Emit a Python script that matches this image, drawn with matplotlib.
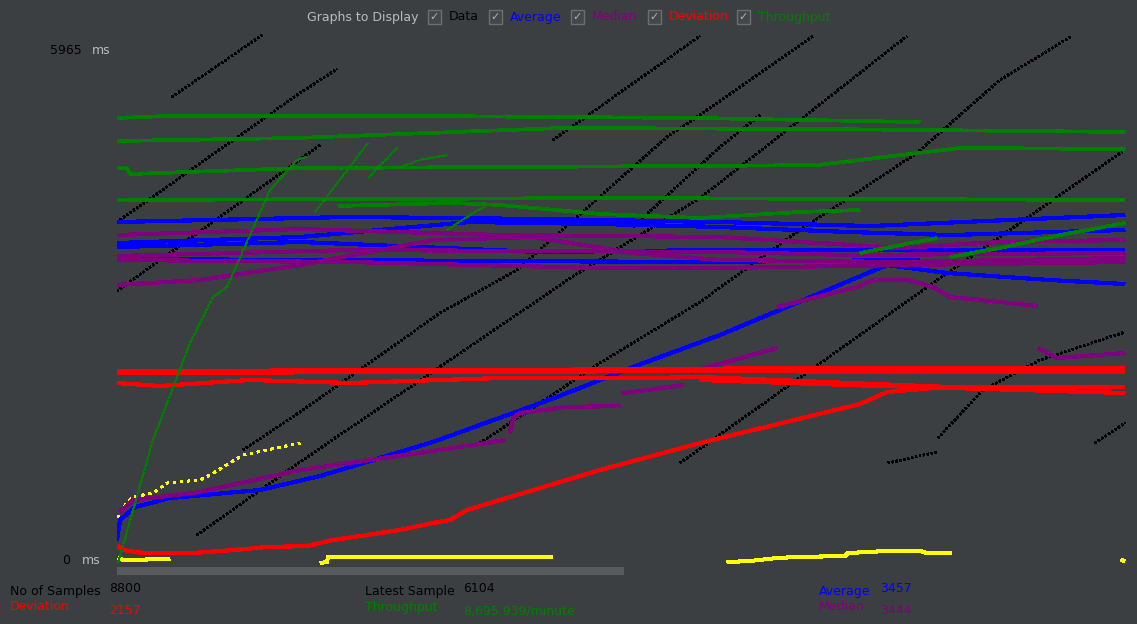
import matplotlib
matplotlib.use("Agg")
import matplotlib.pyplot as plt
from matplotlib.patches import Rectangle
import numpy as np

W, H = 1137, 624
BG = '#3c3f41'
C_DATA, C_AVG, C_MED, C_DEV, C_THR = '#000000', '#0000ff', '#800080', '#ff0000', '#008000'
C_YEL = '#ffff00'

# ---------------- data (x = sample position on graph, y = ms) ----------------
# Throughput (wrapped segments)
thr1_x = [0, 50, 300, 580, 803]
thr1_y = [5171, 5195, 5195, 5171, 5124]
thr2_x = [0, 180, 443, 700, 1008]
thr2_y = [4903, 4938, 5054, 5043, 5008]
thr3_x = [0, 10, 13, 183, 583, 700, 843, 1008]
thr3_y = [4587, 4587, 4517, 4587, 4611, 4622, 4821, 4809]
thr4_x = [0, 500, 1008]
thr4_y = [4214, 4237, 4214]
thr5_x = [221, 333, 383, 483, 583, 683, 743]
thr5_y = [4144, 4179, 4156, 4051, 4004, 4074, 4097]
thr6_x = [743, 820]
thr6_y = [3595, 3770]
thr7_x = [833, 883, 943, 1008]
thr7_y = [3549, 3654, 3805, 3945]
thr_start_x = [1, 36, 73, 96, 110, 153, 180, 190]
thr_start_y = [-23, 1412, 2545, 3082, 3198, 4331, 4681, 4716]
thr_saw_a_x = [198, 251]
thr_saw_a_y = [4074, 4879]
thr_saw_b_x = [251, 280]
thr_saw_b_y = [4471, 4821]
thr_saw_c_x = [283, 303, 330]
thr_saw_c_y = [4599, 4681, 4739]
thr_saw_d_x = [330, 361, 368]
thr_saw_d_y = [3864, 4097, 4132]

# Average
avg1_x = [0, 233, 423, 603, 753, 1008]
avg1_y = [3957, 4016, 3992, 3957, 3910, 4039]
avg2_x = [0, 183, 353, 483, 603, 733, 833, 1008]
avg2_y = [3712, 3782, 3957, 3934, 3899, 3840, 3805, 3864]
avg3_x = [0, 183, 423, 603, 1008]
avg3_y = [3665, 3724, 3607, 3630, 3630]
avg4_x = [0, 583, 803]
avg4_y = [3525, 3490, 3514]
avg5_x = [0, 3, 18, 53, 143, 203, 316, 440, 516, 603, 770, 830, 933, 1008]
avg5_y = [245, 479, 630, 735, 829, 992, 1389, 1914, 2265, 2638, 3455, 3362, 3280, 3233]

# Median
med1_x = [0, 183, 383, 603, 783, 883, 1008]
med1_y = [3805, 3875, 3805, 3782, 3654, 3724, 3747]
med2_x = [0, 233, 603, 733, 1008]
med2_y = [3560, 3630, 3607, 3572, 3595]
med3_x = [0, 233, 483, 603, 783, 1008]
med3_y = [3514, 3490, 3420, 3420, 3455, 3490]
med4_x = [0, 83, 183, 316, 416, 516, 603, 783, 1008]
med4_y = [3222, 3280, 3455, 3747, 3782, 3595, 3514, 3490, 3537]
med5_x = [3, 16, 83, 183, 323, 388]
med5_y = [572, 712, 805, 1062, 1296, 1412]
med6_x = [393, 396, 403, 450, 503]
med6_y = [1494, 1669, 1728, 1798, 1809]
med7_x = [505, 516, 566]
med7_y = [1961, 1973, 2054]
med8_x = [573, 660]
med8_y = [2206, 2486]
med9_x = [660, 740, 756, 790, 816, 833, 883, 920]
med9_y = [2965, 3198, 3280, 3280, 3198, 3082, 3023, 2977]
med10_x = [921, 940, 1008]
med10_y = [2486, 2370, 2428]

# Deviation
dev1_x = [0, 400, 700, 1008]
dev1_y = [2218, 2230, 2253, 2253]
dev2_x = [0, 300, 600, 800, 1008]
dev2_y = [2195, 2206, 2218, 2206, 2206]
dev3_x = [0, 43, 133, 233, 383, 533, 583, 833, 1008]
dev3_y = [2078, 2043, 2113, 2078, 2136, 2136, 2148, 2031, 2031]
dev4_x = [583, 733, 1008]
dev4_y = [2113, 2054, 1961]
dev5_x = [1, 6, 26, 76, 116, 150, 190, 216, 250, 283, 316, 333, 350, 383, 483, 583, 743, 770, 816, 866]
dev5_y = [175, 128, 93, 93, 128, 163, 175, 245, 303, 362, 444, 479, 595, 712, 1062, 1377, 1833, 1973, 2019, 2031]

# Data (sample response times, wrapped diagonal runs)
data1_x = [55, 145]
data1_y = [5416, 6140]
data2_x = [0, 183, 220]
data2_y = [3957, 5463, 5743]
data3_x = [0, 203]
data3_y = [3152, 4856]
data4_x = [80, 183, 458, 583, 683, 790]
data4_y = [303, 1156, 3338, 4237, 5148, 6128]
data5_x = [126, 183, 323, 400, 550, 583, 696]
data5_y = [1296, 1739, 2895, 3397, 4949, 5206, 6128]
data6_x = [436, 583]
data6_y = [4914, 6128]
data7_x = [516, 603, 643]
data7_y = [3899, 4833, 5206]
data8_x = [363, 483, 583, 683, 800, 883, 955]
data8_y = [1377, 2311, 3023, 3864, 4763, 5615, 6128]
data9_x = [563, 823, 883, 950, 1005]
data9_y = [1144, 3303, 3782, 4331, 4774]
data10_x = [771, 820]
data10_y = [1144, 1272]
data11_x = [821, 866, 923, 1008]
data11_y = [1436, 1996, 2346, 2673]
data12_x = [978, 1008]
data12_y = [1377, 1611]

# Latest samples (yellow)
yel1_x = [1, 10, 16, 36, 50, 83, 93, 126, 183]
yel1_y = [502, 689, 747, 794, 910, 946, 1004, 1237, 1377]
yel2_x = [1, 6, 53]
yel2_y = [35, 12, 23]
yel3_x = [203, 210, 211, 436]
yel3_y = [-23, -12, 47, 47]
yel4_x = [610, 633, 660, 680, 728, 731, 770, 803, 810, 835]
yel4_y = [-12, 0, 35, 47, 58, 93, 117, 117, 93, 93]
yel5_x = [1004, 1008]
yel5_y = [12, 0]

y_max_label = "5965"
y_min_label = "0"
legend_items = [("Data", C_DATA), ("Average", C_AVG), ("Median", C_MED),
                ("Deviation", C_DEV), ("Throughput", C_THR)]
stats = {"samples": "8800", "latest": "6104", "average": "3457",
         "deviation": "2157", "throughput": "8,695.939/minute", "median": "3444"}

# ---------------- figure ----------------
fig = plt.figure(figsize=(W / 100, H / 100), dpi=100)
fig.patch.set_facecolor(BG)
ax = fig.add_axes([117 / W, (H - 565) / H, 1020 / W, 535 / H])
ax.set_xlim(0, 1020)
ax.set_ylim(-46.7, 6198.4)
ax.axis('off')


def draw(xs, ys, color, lw, ls='-', z=2):
    ax.plot(xs, ys, color=color, lw=lw, ls=ls, solid_capstyle='butt',
            antialiased=False, zorder=z)


data_style = (0, (1.0, 1.3))
for xs, ys in [(data1_x, data1_y), (data2_x, data2_y), (data3_x, data3_y),
               (data4_x, data4_y), (data5_x, data5_y), (data6_x, data6_y),
               (data7_x, data7_y), (data8_x, data8_y), (data9_x, data9_y),
               (data10_x, data10_y), (data11_x, data11_y), (data12_x, data12_y)]:
    draw(xs, ys, C_DATA, 1.4, data_style, 2)

draw(yel1_x, yel1_y, C_YEL, 1.5, (0, (1.0, 2.2)), 3)
for xs, ys in [(yel2_x, yel2_y), (yel3_x, yel3_y), (yel4_x, yel4_y), (yel5_x, yel5_y)]:
    draw(xs, ys, C_YEL, 2.2, '-', 3)

for xs, ys in [(avg1_x, avg1_y), (avg2_x, avg2_y), (avg3_x, avg3_y),
               (avg4_x, avg4_y), (avg5_x, avg5_y)]:
    draw(xs, ys, C_AVG, 2.3, '-', 4)

for xs, ys in [(med1_x, med1_y), (med2_x, med2_y), (med3_x, med3_y), (med4_x, med4_y),
               (med5_x, med5_y), (med6_x, med6_y), (med7_x, med7_y), (med8_x, med8_y),
               (med9_x, med9_y), (med10_x, med10_y)]:
    draw(xs, ys, C_MED, 2.3, '-', 4)

for xs, ys in [(dev1_x, dev1_y), (dev2_x, dev2_y), (dev3_x, dev3_y),
               (dev4_x, dev4_y), (dev5_x, dev5_y)]:
    draw(xs, ys, C_DEV, 2.3, '-', 5)

for xs, ys in [(thr1_x, thr1_y), (thr2_x, thr2_y), (thr3_x, thr3_y),
               (thr4_x, thr4_y), (thr5_x, thr5_y), (thr6_x, thr6_y), (thr7_x, thr7_y)]:
    draw(xs, ys, C_THR, 2.0, '-', 6)
for xs, ys in [(thr_start_x, thr_start_y), (thr_saw_a_x, thr_saw_a_y),
               (thr_saw_b_x, thr_saw_b_y), (thr_saw_c_x, thr_saw_c_y),
               (thr_saw_d_x, thr_saw_d_y)]:
    draw(xs, ys, C_THR, 1.0, (0, (2, 1)), 6)


# ---------------- texts and widgets ----------------
def ftext(x, y, s, color, size=9, ha='left'):
    fig.text(x / W, 1 - y / H, s, color=color, fontsize=size, ha=ha, va='center',
             family='DejaVu Sans')


ftext(307, 17, "Graphs to Display", '#bbbbbb')
box_x = [428, 489, 571, 648, 737]
for bx, (label, col) in zip(box_x, legend_items):
    fig.add_artist(Rectangle((bx / W, 1 - 23.5 / H), 13 / W, 13 / H,
                             transform=fig.transFigure, facecolor='#43474a',
                             edgecolor='#6d6d6d', lw=1))
    fig.text((bx + 6.5) / W, 1 - 17 / H, "\u2713", color='#b0b0b0', fontsize=8,
             ha='center', va='center', family='DejaVu Sans')
    ftext(bx + 21, 17, label, col)

ftext(50, 50, y_max_label, '#000000')
ftext(92, 50, "ms", '#bbbbbb')
ftext(62, 561, y_min_label, '#000000')
ftext(82, 561, "ms", '#bbbbbb')

fig.add_artist(Rectangle((117 / W, 1 - 575 / H), 507 / W, 8 / H,
                         transform=fig.transFigure, facecolor='#585b5d', edgecolor='none'))

ftext(10, 592, "No of Samples", '#000000')
ftext(109, 588, stats["samples"], '#000000')
ftext(10, 607, "Deviation", C_DEV)
ftext(109, 611, stats["deviation"], C_DEV)
ftext(365, 592, "Latest Sample", '#000000')
ftext(463, 588, stats["latest"], '#000000')
ftext(365, 607, "Throughput", C_THR)
ftext(463, 611, stats["throughput"], C_THR)
ftext(819, 592, "Average", C_AVG)
ftext(880, 588, stats["average"], C_AVG)
ftext(819, 607, "Median", C_MED)
ftext(880, 611, stats["median"], C_MED)

fig.savefig("out.png", dpi=100, facecolor=BG)
